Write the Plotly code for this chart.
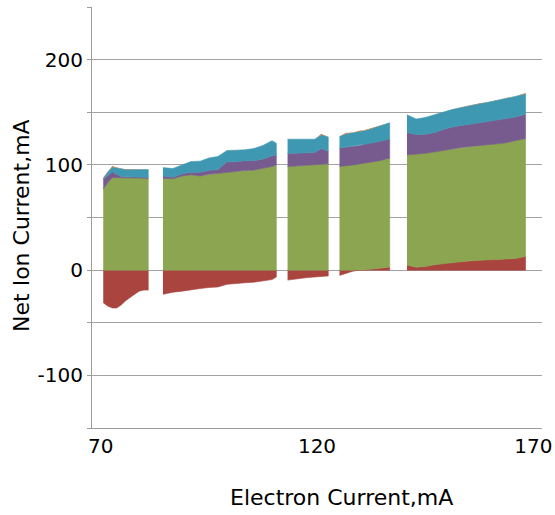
import plotly.graph_objects as go

# ---- data: five measurement blocks (Electron current, mA) ----
x1 = [70.6, 71.6, 72.7, 73.7, 74.8, 75.8, 76.8, 77.9, 78.9, 80.0, 81.0]
red1 = [-31, -34, -36, -36, -33, -29, -26, -23, -20, -19, -19]
green1 = [77, 83, 88, 88, 88, 87.5, 87.5, 87.5, 87.5, 87.5, 87]
purple1 = [9, 7, 5.5, 3, 1, 1, 1, 1, 1, 1, 1]
teal1 = [1, 3, 4.5, 6, 7, 7, 7, 7, 7, 7, 7.5]
orange1 = [1, 0, 1, 0.5, 0, 0, 0, 0, 0, 0, 0]

x2 = [84.4, 86.7, 88.8, 90.9, 93.0, 95.0, 97.1, 99.2, 101.3, 103.4, 105.4, 107.5, 109.6, 110.6]
red2 = [-23, -21, -20, -18.5, -17.5, -16.5, -16, -13.5, -12.5, -12, -11.5, -10.5, -9, -6.5]
green2 = [87.3, 86.8, 89.5, 90.5, 89.5, 91, 92, 93, 93.7, 94.6, 95, 96.8, 98.4, 100]
purple2 = [2.2, 1.5, 2.1, 2.4, 3.4, 3.8, 3.5, 10, 9.3, 9.4, 9, 8.7, 10.2, 9.5]
teal2 = [7.9, 8.2, 8.4, 10.3, 10.6, 11.7, 12.5, 10.6, 11, 10.3, 11.5, 13, 14.3, 11.1]
orange2 = [0, 0, 0, 0, 0, 0, 0, 0, 0, 0, 0, 0, 0, 0]

x3 = [113.2, 114.8, 116.4, 117.9, 119.5, 121.0, 122.6]
red3 = [-9.5, -8.5, -7.5, -7, -6.5, -6, -5.5]
green3 = [98.4, 98.8, 99.2, 99.6, 100, 100.5, 101]
purple3 = [12.4, 12.2, 12, 11.9, 11.7, 15, 12]
teal3 = [13.6, 13.4, 13.2, 12.9, 12.7, 13.1, 13.5]
orange3 = [0, 0, 0, 0, 0, 1, 0]

x4 = [125.2, 126.7, 128.3, 129.9, 131.4, 133.0, 134.6, 136.1, 136.8]
red4 = [-5, -3, -1, 0, 0.5, 1, 1.5, 2.5, 3]
green4 = [98.4, 99.2, 100, 100.8, 101.3, 101.8, 102.5, 103.3, 103.3]
purple4 = [17.6, 17.6, 17.5, 17.7, 18.2, 18.2, 18.5, 18.2, 18.1]
teal4 = [11, 12.7, 13, 13.2, 13, 14, 14.5, 15.5, 15.6]
orange4 = [0, 1, 0, 1, 0, 0, 0, 0, 0]

x5 = [140.8, 142.9, 145.0, 147.0, 149.1, 151.2, 153.3, 155.4, 157.4, 159.5, 161.6, 163.7, 165.8, 168.2]
red5 = [4.8, 2.8, 3.5, 5, 6.5, 7.2, 8, 8.8, 9.5, 10, 10.2, 10.6, 11, 13]
green5 = [104.7, 107.5, 107.5, 107.2, 107.5, 108.1, 108.5, 108.7, 109, 109.3, 109.8, 110.4, 112, 112]
purple5 = [21.3, 18.5, 18, 18.3, 19.5, 20.7, 21, 21, 21.5, 22.2, 22.9, 23, 22.5, 23]
teal5 = [16.8, 14.7, 16, 17, 16.5, 16.5, 17, 18, 18, 18, 18.3, 19.5, 19.5, 19.5]
orange5 = [0, 0, 0, 0, 0, 0, 0, 0, 0, 0, 0, 0, 0, 0.8]

blocks = [
    (x1, red1, green1, purple1, teal1, orange1),
    (x2, red2, green2, purple2, teal2, orange2),
    (x3, red3, green3, purple3, teal3, orange3),
    (x4, red4, green4, purple4, teal4, orange4),
    (x5, red5, green5, purple5, teal5, orange5),
]

colors = ["#A9443F", "#8BA550", "#775B8F", "#3F98B2", "#E27F3A"]
line_w = [0.6, 0.6, 0.6, 0.6, 0]
names = ["Series 1", "Series 2", "Series 3", "Series 4", "Series 5"]

y_ticks = [-150, -100, -50, 0, 50, 100, 150, 200, 250]
y_text = ["", "-100", "", "0", "", "100", "", "200", ""]
x_ticks = [70, 120, 170]

fig = go.Figure()


def band(xs, lo, hi, k):
    fig.add_trace(go.Scatter(
        x=list(xs) + list(xs)[::-1],
        y=list(hi) + list(lo)[::-1],
        fill="toself", fillcolor=colors[k], mode="lines",
        line=dict(color=colors[k], width=line_w[k]),
        name=names[k], showlegend=False, hoverinfo="skip",
    ))


for xs, red, green, purple, teal, orange in blocks:
    zero = [0] * len(xs)
    band(xs, zero, red, 0)
    base = [max(r, 0) for r in red]
    layers = [green, purple, teal, orange]
    for k, layer in enumerate(layers):
        top = [b + v for b, v in zip(base, layer)]
        band(xs, base, top, k + 1)
        base = top

font = "DejaVu Sans, Verdana, sans-serif"
fig.update_layout(
    width=555, height=515,
    margin=dict(l=92, r=13, t=7, b=87),
    paper_bgcolor="white", plot_bgcolor="white",
    font=dict(family=font, size=20, color="#000000"),
    showlegend=False,
    xaxis=dict(
        range=[68, 172], tickvals=x_ticks, ticktext=[str(v) for v in x_ticks],
        showgrid=False, zeroline=False,
        showline=True, linecolor="#9c9c9c", linewidth=1,
        ticks="",
        tickfont=dict(size=20), automargin=False,
        ticklabeloverflow="allow",
    ),
    yaxis=dict(
        range=[-150, 250], tickvals=y_ticks, ticktext=y_text,
        showgrid=True, gridcolor="#a3a3a3", gridwidth=1,
        zeroline=False,
        showline=True, linecolor="#9c9c9c", linewidth=1,
        ticks="outside", ticklen=4, tickcolor="#9c9c9c",
        tickfont=dict(size=20), automargin=False,
    ),
    annotations=[
        dict(text="Electron Current,mA", xref="paper", yref="paper",
             x=0.555, y=-0.164, xanchor="center", yanchor="middle",
             showarrow=False, font=dict(size=22, family=font)),
        dict(text="Net Ion Current,mA", xref="paper", yref="paper",
             x=-0.1555, y=0.48, xanchor="center", yanchor="middle",
             textangle=-90, showarrow=False, font=dict(size=22, family=font)),
    ],
)

fig.write_html("out.html")
